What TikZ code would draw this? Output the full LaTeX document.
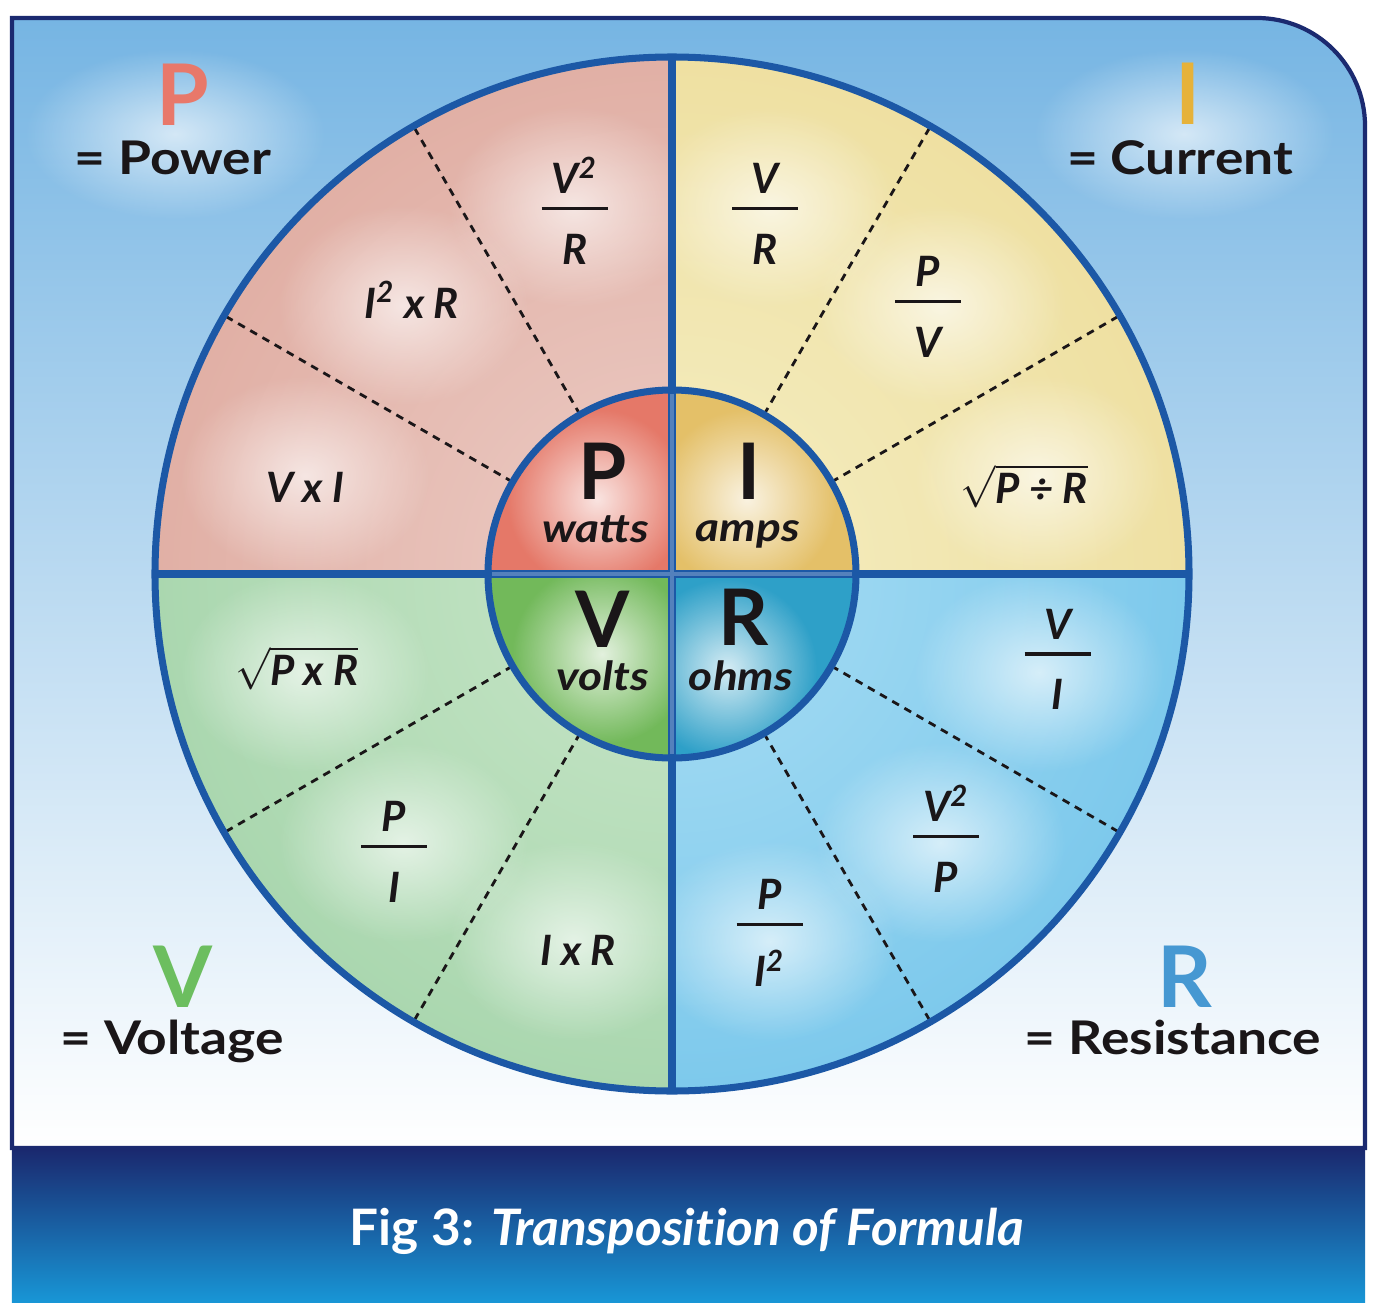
\documentclass[tikz,border=0pt]{standalone}
\usepackage{fontspec}
\setmainfont{Lato}
\newfontfamily\widefont[FakeStretch=1.15]{Lato}
\newfontfamily\capfont[FakeStretch=1.02,Ligatures=NoCommon]{Lato}
\usetikzlibrary{positioning,fadings}

\definecolor{ringblue}{RGB}{28,88,166}
\definecolor{framenavy}{RGB}{27,42,112}
\definecolor{skytop}{RGB}{118,181,227}
\definecolor{skymid}{RGB}{172,212,240}
\definecolor{bannertop}{RGB}{26,40,110}
\definecolor{bannermid}{RGB}{22,80,160}
\definecolor{bannerbot}{RGB}{24,150,214}
\definecolor{plight}{RGB}{236,205,198}
\definecolor{pout}{RGB}{214,146,132}
\definecolor{ilight}{RGB}{245,238,195}
\definecolor{iout}{RGB}{232,210,128}
\definecolor{vlight}{RGB}{200,230,200}
\definecolor{vout}{RGB}{140,200,150}
\definecolor{rlight}{RGB}{170,222,244}
\definecolor{rout}{RGB}{80,180,228}
\definecolor{hubp}{RGB}{229,120,104}
\definecolor{hubi}{RGB}{228,192,104}
\definecolor{hubv}{RGB}{114,185,90}
\definecolor{hubr}{RGB}{46,160,200}
\definecolor{pkey}{RGB}{232,120,106}
\definecolor{ikey}{RGB}{230,178,58}
\definecolor{vkey}{RGB}{108,190,95}
\definecolor{rkey}{RGB}{70,152,210}
\definecolor{ink}{RGB}{26,22,24}

\tikzfading[name=glow, inner color=transparent!0, outer color=transparent!100]

% fraction with a plain bar
\newcommand{\stackfrac}[2]{\vbox{\offinterlineskip\halign{\hfil##\hfil\cr
  \vrule height 8.5pt depth 0pt width 0pt #1\cr
  \noalign{\vskip 3.7pt}
  \rule{0.66cm}{1pt}\cr
  \noalign{\vskip 6.8pt}
  \vrule height 8.5pt depth 0pt width 0pt #2\cr}}}

\tikzset{
  key/.style={font=\fontsize{24.2}{28}\selectfont\bfseries, inner sep=0pt, anchor=base},
  keyname/.style={font=\widefont\fontsize{13.2}{15}\selectfont\bfseries, text=ink, inner sep=0pt, anchor=base},
  unitletter/.style={font=\fontsize{22.2}{26}\selectfont\bfseries, text=ink, inner sep=0pt, anchor=base},
  unitname/.style={font=\widefont\fontsize{11.4}{14}\selectfont\bfseries\itshape, text=ink, inner sep=0pt, anchor=base},
  formula/.style={font=\fontsize{11.9}{14.3}\selectfont\bfseries\itshape, text=ink, inner sep=0pt},
  sectorline/.style={ink, line width=0.8pt, dash pattern=on 2.2pt off 1.8pt},
  ringline/.style={ringblue, line width=2pt},
  halo/.style={white, path fading=glow},
}

\begin{document}
\begin{tikzpicture}
\useasboundingbox (-6.72,-7.28) rectangle (7.06,5.74);
% backdrop and caption band
\shade[top color=skytop, middle color=skymid, bottom color=white]
  (-6.60,-5.74) -- (-6.60,5.56) -- (5.85,5.56) arc[start angle=90, end angle=0, radius=1.08] -- (6.93,-5.74) -- cycle;
\fill[halo, fill opacity=0.65] (-4.97,4.40) ellipse (1.5 and 0.85);
\fill[halo, fill opacity=0.65] (5.12,4.40) ellipse (1.5 and 0.85);
\shade[top color=bannertop, middle color=bannermid, bottom color=bannerbot] (-6.60,-7.28) rectangle (6.93,-5.74);
\draw[framenavy, line width=1.2pt]
  (-6.60,-5.74) -- (-6.60,5.56) -- (5.85,5.56) arc[start angle=90, end angle=0, radius=1.08] -- (6.93,-5.74) -- cycle;

% outer quadrants
\foreach \s/\hi/\lo in {90/plight/pout, 0/ilight/iout, 180/vlight/vout, 270/rlight/rout} {
  \begin{scope}
    \clip (0,0) -- (\s:5.17) arc[start angle=\s, delta angle=90, radius=5.17] -- cycle;
    \shade[inner color=\hi, outer color=\lo] (0,0) circle (10.34);
    \foreach \t in {15,45,75}
      \fill[halo, fill opacity=0.65] (\s+\t:3.8) ellipse (1.25 and 1.0);
  \end{scope}
}
% inner quadrants
\foreach \s/\c/\gx/\gy in {90/hubp/-0.75/0.75, 0/hubi/0.75/0.75, 180/hubv/-0.7/-0.8, 270/hubr/0.55/-0.95} {
  \begin{scope}
    \clip (0,0) -- (\s:1.84) arc[start angle=\s, delta angle=90, radius=1.84] -- cycle;
    \fill[\c] (0,0) circle (1.84);
    \fill[halo, fill opacity=0.8] (\gx,\gy) circle (0.9);
  \end{scope}
}

\foreach \a in {30,60,120,150,210,240,300,330}
  \draw[sectorline] (\a:1.84) -- (\a:5.17);

\draw[ringline] (-5.17,0) -- (5.17,0);
\draw[ringline] (0,-5.17) -- (0,5.17);
\draw[white, opacity=0.25, line width=1.2pt] (-1.8,0) -- (1.8,0) (0,-1.8) -- (0,1.8);
\draw[ringline] (0,0) circle (5.17);
\draw[ringline] (0,0) circle (1.84);

% corner keys
\node[key, text=pkey] (pkeyl) at (-4.89,4.48) {P};
\node[keyname] (pname) at (-4.99,3.99) {= Power};
\node[key, text=ikey] (ikeyl) at (5.16,4.49) {I};
\node[keyname] (iname) at (5.08,3.99) {= Current};
\node[key, text=vkey] (vkeyl) at (-4.89,-4.33) {V};
\node[keyname] (vname) at (-5.00,-4.80) {= Voltage};
\node[key, text=rkey] (rkeyl) at (5.13,-4.33) {R};
\node[keyname] (rname) at (5.01,-4.80) {= Resistance};

% hub
\node[unitletter] (pc) at (-0.69,0.75) {P};
\node[unitname] (pu) at (-0.76,0.32) {watts};
\node[unitletter] (ic) at (0.77,0.75) {I};
\node[unitname] (iu) at (0.76,0.33) {amps};
\node[unitletter] (vc) at (-0.69,-0.73) {V};
\node[unitname] (vu) at (-0.69,-1.16) {volts};
\node[unitletter] (rc) at (0.72,-0.71) {R};
\node[unitname] (ru) at (0.69,-1.16) {ohms};

% transposed formulas
\node[formula] (pvr) at (105:3.76) {\stackfrac{V\textsuperscript{2}}{R}};
\node[formula] (pir) at (133.5:3.78) {I\textsuperscript{2} x R};
\node[formula] (pvi) at (166.7:3.77) {V x I};
\node[formula] (ivr) at (75.5:3.72) {\stackfrac{V}{R}};
\node[formula] (ipv) at (46.2:3.70) {\stackfrac{P}{V}};
\node[formula] (iroot) at (14:3.63) {$\sqrt{\mbox{P ÷ R}}$};
\node[formula] (rvi) at (-12.5:3.95) {\stackfrac{V}{I}};
\node[formula] (rvp) at (-44:3.81) {\stackfrac{V\textsuperscript{2}}{P}};
\node[formula] (rpi) at (-74.8:3.72) {\stackfrac{P}{I\textsuperscript{2}}};
\node[formula] (vroot) at (194.1:3.87) {$\sqrt{\mbox{P x R}}$};
\node[formula] (vpi) at (225:3.93) {\stackfrac{P}{I}};
\node[formula] (vir) at (256:3.88) {I x R};

\node[font=\capfont\fontsize{14.3}{17}\selectfont\bfseries, text=white, inner sep=0pt, anchor=base]
  (caption) at (0.15,-6.71) {Fig 3: \textit{Transposition of Formula}};
\end{tikzpicture}
\end{document}
